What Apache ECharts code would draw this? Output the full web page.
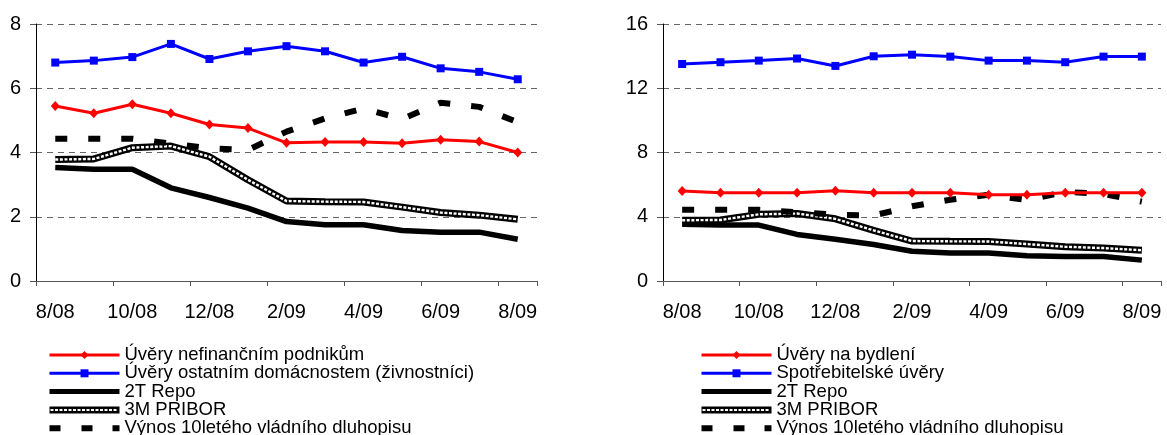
<!DOCTYPE html>
<html>
<head>
<meta charset="utf-8">
<title>Úrokové sazby</title>
<script src="https://cdn.jsdelivr.net/npm/echarts@6.0.0/dist/echarts.min.js"></script>
<style>
    html,body{margin:0;padding:0;background:#fff;}
    #chart{width:1167px;height:435px;}
</style>
</head>
<body>
<div id="chart"></div>
<script>
// měsíce na ose x
let mesice=['8/08','9/08','10/08','11/08','12/08','1/09','2/09','3/09','4/09','5/09','6/09','7/09','8/09'];

// levý graf - úvěry podnikům a živnostníkům
let uveryPodnikum=[5.45,5.22,5.5,5.22,4.87,4.76,4.3,4.33,4.33,4.29,4.4,4.34,4.0];
let uveryZivnostnici=[6.8,6.86,6.97,7.38,6.91,7.15,7.31,7.15,6.8,6.98,6.62,6.51,6.28];

// pravý graf - úvěry domácnostem
let uveryBydleni=[5.6,5.49,5.49,5.49,5.62,5.49,5.49,5.49,5.37,5.37,5.49,5.49,5.49];
let spotrebitelske=[13.51,13.62,13.72,13.85,13.39,13.99,14.09,13.97,13.72,13.72,13.62,13.97,13.97];

// sazby v obou grafech
let repo2T=[3.53,3.48,3.48,2.9,2.6,2.27,1.85,1.75,1.75,1.57,1.52,1.52,1.3];
let pribor3M=[3.78,3.8,4.15,4.2,3.87,3.15,2.49,2.47,2.46,2.3,2.13,2.05,1.92];
let vynos10=[4.43,4.43,4.43,4.28,4.13,4.08,4.65,5.06,5.37,5.04,5.55,5.42,4.94];

// popisky os y
let levyTicky=[0,2,4,6,8];
let pravyTicky=[0,4,8,12,16];

let levyNazvy=['Úvěry nefinančním podnikům','Úvěry ostatním domácnostem (živnostníci)','2T Repo','3M PRIBOR','Výnos 10letého vládního dluhopisu'];
let pravyNazvy=['Úvěry na bydlení','Spotřebitelské úvěry','2T Repo','3M PRIBOR','Výnos 10letého vládního dluhopisu'];

let font='"Liberation Sans", Arial, sans-serif';

// ikony legendy kreslené cestou (rámeček 70x10 drží dvě nulové podcesty)
let ramecek='M0,0H0.001V0.001Z M0,10H0.001V9.999Z ';
let ikony={
    '2T Repo':'path://'+ramecek+'M0,2.5H70V7.5H0Z',
    '3M PRIBOR':priborIkona(),
    'Výnos 10letého vládního dluhopisu':'path://'+ramecek+'M0,2H11V8H0Z M32,2H43V8H32Z M63,2H70V8H63Z'
};
function priborIkona(){
    let p=ramecek+'M0,1.5H70V8.5H0Z';
    for(let x=1;x+3<=70;x+=4.5){
        p+=' M'+x+',4V6H'+(x+3)+'V4Z';
    }
    return 'path://'+p;
}

function osaX(idx){
    return {
        type:'category',
        gridIndex:idx,
        data:mesice,
        boundaryGap:true,
        axisLine:{lineStyle:{color:'#555',width:1}},
        axisTick:{show:true,interval:1,length:5,lineStyle:{color:'#555'}},
        axisLabel:{interval:1,margin:21,fontSize:20,color:'#000',fontFamily:font}
    };
}

function osaY(idx,ticky){
    return {
        type:'value',
        gridIndex:idx,
        min:ticky[0],
        max:ticky[ticky.length-1],
        interval:ticky[1]-ticky[0],
        axisLine:{show:true,lineStyle:{color:'#000',width:1}},
        axisTick:{show:true,length:6,lineStyle:{color:'#555'}},
        axisLabel:{margin:15,fontSize:20,color:'#000',fontFamily:font},
        splitLine:{show:true,lineStyle:{color:'#666',width:1,type:[6,5]}}
    };
}

function legenda(nazvy,left){
    return {
        orient:'vertical',
        left:left,
        top:345.5,
        height:120,
        padding:0,
        itemWidth:70,
        itemHeight:10,
        itemGap:-0.7,
        selectedMode:false,
        itemStyle:{borderWidth:0},
        lineStyle:{width:'inherit',type:'inherit'},
        textStyle:{fontSize:18.5,lineHeight:18,color:'#000',fontFamily:font},
        data:nazvy.map(n=>ikony[n]?{name:n,icon:ikony[n],itemStyle:{borderWidth:0}}:{name:n})
    };
}

function sazby(idx){
    return [
        {name:'2T Repo',type:'line',xAxisIndex:idx,yAxisIndex:idx,data:repo2T,
            showSymbol:false,symbol:'none',lineStyle:{color:'#000',width:5.5},itemStyle:{color:'#000'}},
        {name:'3M PRIBOR',type:'line',xAxisIndex:idx,yAxisIndex:idx,data:pribor3M,
            showSymbol:false,symbol:'none',lineStyle:{color:'#000',width:7},itemStyle:{color:'#000',borderWidth:0}},
        {name:'pribor-okenka',type:'line',xAxisIndex:idx,yAxisIndex:idx,data:pribor3M,
            showSymbol:false,symbol:'none',lineStyle:{color:'#fff',width:2.4,type:[3,1.6]},itemStyle:{color:'#fff'}},
        {name:'Výnos 10letého vládního dluhopisu',type:'line',xAxisIndex:idx,yAxisIndex:idx,data:vynos10,
            showSymbol:false,symbol:'none',lineStyle:{color:'#000',width:6,type:[12,21]},itemStyle:{color:'#000'}}
    ];
}

let chart=echarts.init(document.getElementById('chart'));
let option={
    animation:false,
    backgroundColor:'#fff',
    grid:[
        {left:36,top:24,width:501,height:257},
        {left:663,top:24,width:498,height:257}
    ],
    xAxis:[osaX(0),osaX(1)],
    yAxis:[osaY(0,levyTicky),osaY(1,pravyTicky)],
    legend:[legenda(levyNazvy,48),legenda(pravyNazvy,700)],
    series:[].concat(
        sazby(0),
        [
            {name:levyNazvy[1],type:'line',xAxisIndex:0,yAxisIndex:0,data:uveryZivnostnici,
                symbol:'rect',symbolSize:8,lineStyle:{color:'#0000ff',width:3},itemStyle:{color:'#0000ff',borderWidth:0}},
            {name:levyNazvy[0],type:'line',xAxisIndex:0,yAxisIndex:0,data:uveryPodnikum,
                symbol:'diamond',symbolSize:[9,10],lineStyle:{color:'#ff0000',width:3},itemStyle:{color:'#ff0000',borderWidth:0}}
        ],
        sazby(1),
        [
            {name:pravyNazvy[1],type:'line',xAxisIndex:1,yAxisIndex:1,data:spotrebitelske,
                symbol:'rect',symbolSize:8,lineStyle:{color:'#0000ff',width:3},itemStyle:{color:'#0000ff',borderWidth:0}},
            {name:pravyNazvy[0],type:'line',xAxisIndex:1,yAxisIndex:1,data:uveryBydleni,
                symbol:'diamond',symbolSize:[9,10],lineStyle:{color:'#ff0000',width:3},itemStyle:{color:'#ff0000',borderWidth:0}}
        ]
    )
};
chart.setOption(option);
</script>
</body>
</html>
